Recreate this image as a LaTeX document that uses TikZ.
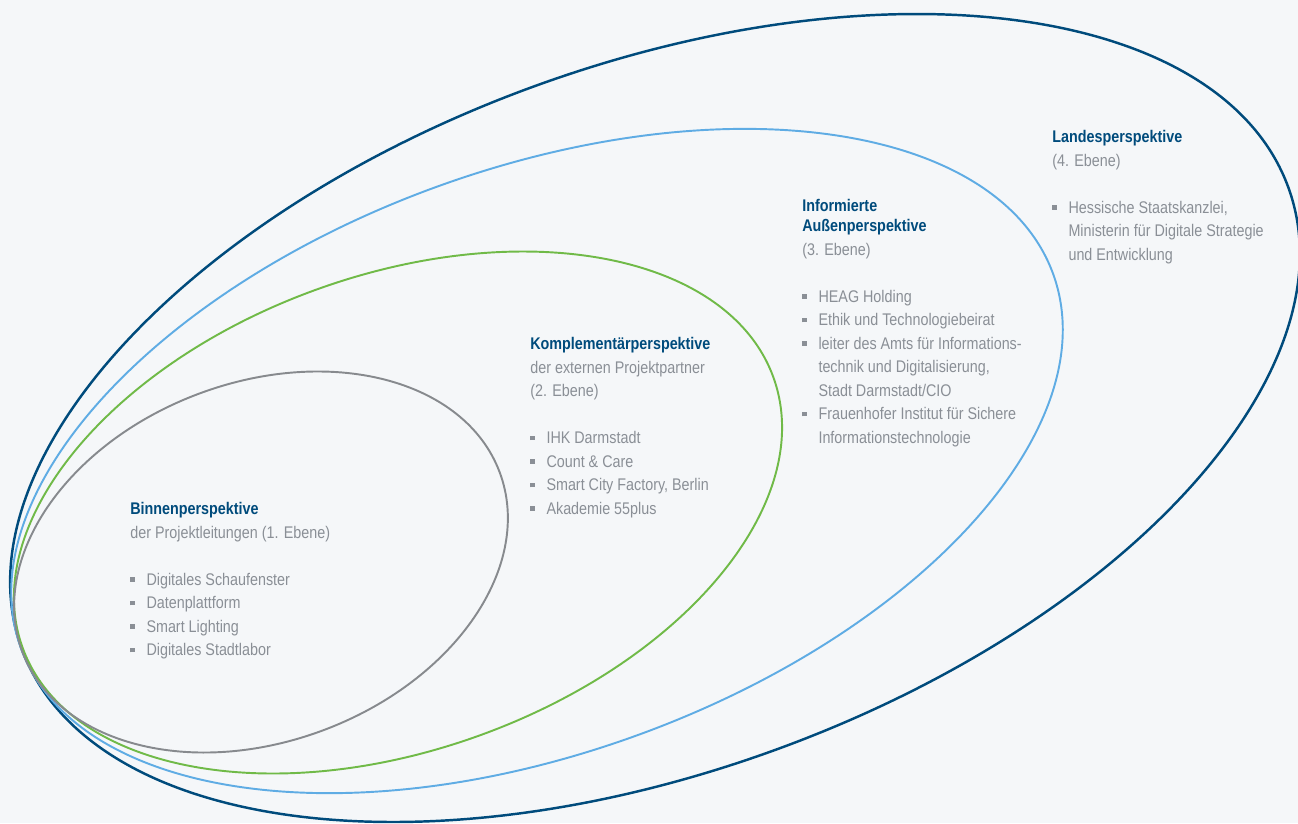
\documentclass[tikz,border=0pt]{standalone}
\usepackage{fontspec}
\setmainfont{Liberation Sans}[FakeStretch=0.85]
\usepackage{tikz}
\definecolor{pvdark}{RGB}{0,75,124}
\definecolor{pvlight}{RGB}{95,172,228}
\definecolor{pvgreen}{RGB}{112,186,72}
\definecolor{pvgray}{RGB}{135,138,142}
\definecolor{pvtext}{RGB}{138,143,150}
\definecolor{pvback}{RGB}{245,247,249}

\newcommand{\bul}{\makebox[9.2pt][l]{\raisebox{2pt}{\rule{2.5pt}{2.5pt}}}}
\newcommand{\ind}{\hspace*{9.2pt}}
\newcommand{\head}[1]{{\bfseries\color{pvdark}#1}}

\begin{document}
\begin{tikzpicture}[x=0.02cm, y=-0.02cm,
  ring/.style={line width=1.1pt},
  block/.style={anchor=north west, inner sep=0pt, align=left, text=pvtext,
    font=\fontsize{9.6}{13.4}\selectfont}]
\fill[pvback] (0,0) rectangle (1298,823);
\useasboundingbox (0,0) rectangle (1298,823);

% Rings
\draw[ring, pvdark, line width=1.4pt, rotate around={20:(655,418)}]
  (655,418) ellipse [x radius=674, y radius=353];
\draw[ring, pvlight, rotate around={19.9:(537,461)}]
  (537,461) ellipse [x radius=549, y radius=292];
\draw[ring, pvgreen, rotate around={19.75:(398,512.5)}]
  (398,512.5) ellipse [x radius=399, y radius=237.4];
\draw[ring, pvgray, rotate around={20.7:(261,562)}]
  (261,562) ellipse [x radius=255, y radius=179.4];

% 1. Ebene
\node[block] (binnen) at (130,502) {\head{Binnenperspektive}\\
  der Projektleitungen (1. Ebene)\\[13.4pt]
  \bul Digitales Schaufenster\\
  \bul Datenplattform\\
  \bul Smart Lighting\\
  \bul Digitales Stadtlabor};

% 2. Ebene
\node[block] (komplement) at (530,337) {\head{Komplementärperspektive}\\
  der externen Projektpartner\\
  (2. Ebene)\\[13.4pt]
  \bul IHK Darmstadt\\
  \bul Count \& Care\\
  \bul Smart City Factory, Berlin\\
  \bul Akademie 55plus};

% 3. Ebene
\node[block] (aussen) at (802,199) {\head{Informierte}\\[-2pt]
  \head{Außenperspektive}\\
  (3. Ebene)\\[13.4pt]
  \bul HEAG Holding\\
  \bul Ethik und Technologiebeirat\\
  \bul leiter des Amts für Informations-\\
  \ind technik und Digitalisierung,\\
  \ind Stadt Darmstadt/CIO\\
  \bul Frauenhofer Institut für Sichere\\
  \ind Informationstechnologie};

% 4. Ebene
\node[block] (landes) at (1052,130) {\head{Landesperspektive}\\
  (4. Ebene)\\[13.4pt]
  \bul Hessische Staatskanzlei,\\
  \ind Ministerin für Digitale Strategie\\
  \ind und Entwicklung};
\end{tikzpicture}
\end{document}
